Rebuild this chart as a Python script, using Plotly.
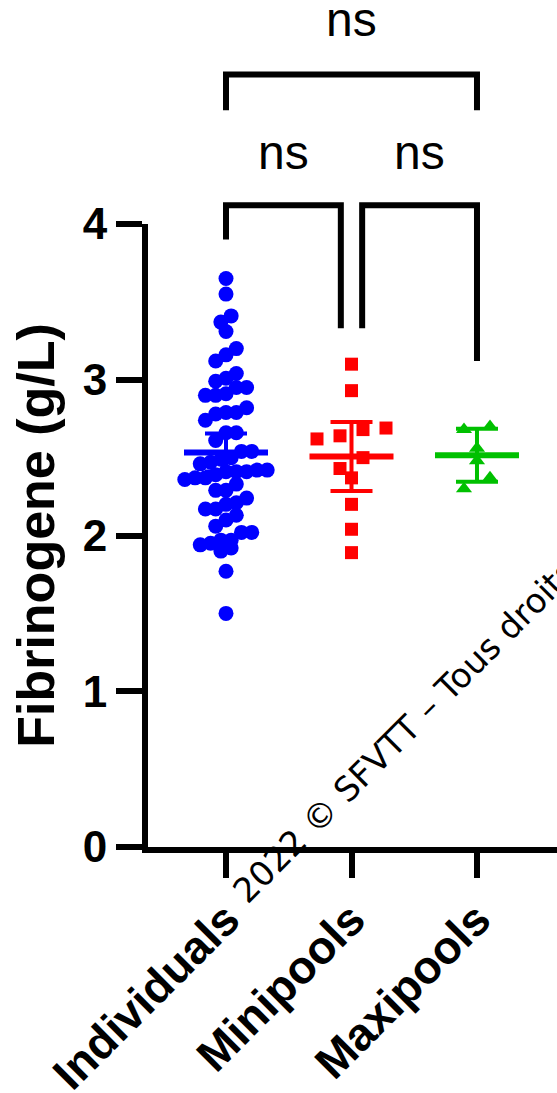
import math
import numpy as np
import plotly.graph_objects as go

# ---- data -----------------------------------------------------------------
groups = ["Individuals", "Minipools", "Maxipools"]

individuals = [
    3.65, 3.55, 3.41, 3.37, 3.31, 3.20, 3.16, 3.12, 3.04, 3.01, 2.99, 2.95,
    2.95, 2.91, 2.90, 2.90, 2.82, 2.78, 2.74, 2.79, 2.79, 2.66, 2.66, 2.61,
    2.54, 2.54, 2.47, 2.49, 2.50, 2.46, 2.41, 2.42, 2.39, 2.41, 2.41, 2.42,
    2.37, 2.36, 2.37, 2.29, 2.29, 2.33, 2.24, 2.20, 2.21, 2.17, 2.17, 2.13,
    2.10, 2.06, 2.02, 2.02, 1.95, 1.97, 1.97, 1.92, 1.94, 1.90, 1.77, 1.50,
]
minipools = [3.10, 2.93, 2.64, 2.68, 2.69, 2.62, 2.50, 2.43, 2.37, 2.20, 2.04, 1.89]
maxipools = [2.68, 2.70, 2.56, 2.48, 2.37, 2.30]

y_ticks = [0, 1, 2, 3, 4]
y_title = "Fibrinogene (g/L)"
comparison_labels = ["ns", "ns", "ns"]
watermark = "2022 © SFVTT – Tous droits réservés"

# ---- styling ----------------------------------------------------------------
W, H = 557, 1093
M = dict(l=148, r=0, t=224, b=246)
X_RANGE = [-0.6215, 2.6375]
Y_RANGE = [0, 4]
FONT = "Liberation Sans, Arial, sans-serif"

colors = ["#0000FF", "#FF0000", "#00C000"]
symbols = ["circle", "square", "triangle-up"]
marker_sizes = [15, 13, 14]
row_px = [14, 13, 11.5]      # vertical band that forms one swarm row
step_px = [10.3, 23, 26]     # horizontal spacing inside a row

px_x = (W - M["l"] - M["r"]) / (X_RANGE[1] - X_RANGE[0])
px_y = (H - M["t"] - M["b"]) / (Y_RANGE[1] - Y_RANGE[0])


def swarm_offsets(values, row_h, step):
    """Column-scatter layout: bin points into rows and spread each row."""
    v = np.asarray(values, dtype=float)
    order = np.argsort(-v, kind="stable")
    rows, cur = [], []
    for i in order:
        if cur and (v[cur[0]] - v[i]) * px_y > row_h:
            rows.append(cur)
            cur = []
        cur.append(i)
    if cur:
        rows.append(cur)
    off = np.zeros(len(v))
    for row in rows:
        row = sorted(row, key=lambda k: v[k])
        n = len(row)
        for j, k in enumerate(row):
            off[k] = (j - (n - 1) / 2) * step / px_x
    return off


def t_crit(df, q=0.975):
    logc = math.lgamma((df + 1) / 2) - math.lgamma(df / 2) - 0.5 * math.log(df * math.pi)

    def cdf(t):
        xs = np.linspace(0.0, t, 4001)
        pdf = np.exp(logc - (df + 1) / 2 * np.log1p(xs ** 2 / df))
        return 0.5 + np.trapezoid(pdf, xs)

    lo, hi = 0.0, 40.0
    for _ in range(70):
        mid = (lo + hi) / 2
        if cdf(mid) < q:
            lo = mid
        else:
            hi = mid
    return (lo + hi) / 2


fig = go.Figure()
series = [individuals, minipools, maxipools]
mean_half = 42 / px_x

for i, vals in enumerate(series):
    vals = np.asarray(vals, dtype=float)
    xs = i + swarm_offsets(vals, row_px[i], step_px[i])
    fig.add_trace(go.Scatter(
        x=xs, y=vals, mode="markers", hoverinfo="y",
        marker=dict(symbol=symbols[i], size=marker_sizes[i], color=colors[i],
                    line=dict(width=0)),
    ))
    n = len(vals)
    mean = vals.mean()
    ci = t_crit(n - 1) * vals.std(ddof=1) / math.sqrt(n)
    fig.add_trace(go.Scatter(
        x=[i], y=[mean], mode="markers", hoverinfo="skip",
        marker=dict(size=1, color=colors[i], opacity=0),
        error_y=dict(type="data", array=[ci], visible=True, color=colors[i],
                     thickness=4, width=21),
    ))
    fig.add_trace(go.Scatter(
        x=[i - mean_half, i + mean_half], y=[mean, mean], mode="lines",
        hoverinfo="skip", line=dict(color=colors[i], width=6),
    ))

# ---- significance brackets (paper y: fraction of the 0-4 axis) --------------
def py(v):
    return v / (Y_RANGE[1] - Y_RANGE[0])

brackets = [
    # x_left, x_right, bar level, left leg end, right leg end, label level
    (0.0, 2.0, 4.96, 4.73, 4.73, 5.31),
    (0.0, 0.915, 4.12, 3.90, 3.33, 4.46),
    (1.085, 2.0, 4.12, 3.33, 3.12, 4.46),
]
for (x0, x1, bar, l0, l1, ty), lab in zip(brackets, comparison_labels):
    fig.add_shape(
        type="path", xref="x", yref="paper",
        path=f"M {x0},{py(l0)} L {x0},{py(bar)} L {x1},{py(bar)} L {x1},{py(l1)}",
        line=dict(color="black", width=6),
    )
    fig.add_annotation(
        x=(x0 + x1) / 2, y=py(ty), xref="x", yref="paper", text=lab,
        showarrow=False, xanchor="center", yanchor="middle",
        font=dict(family=FONT, size=48, color="black"),
    )

fig.add_annotation(
    x=0.762, y=0.274, xref="paper", yref="paper", text=watermark,
    showarrow=False, textangle=-45, xanchor="center", yanchor="middle",
    font=dict(family="DejaVu Sans", size=34, color="black"),
)

fig.update_layout(
    width=W, height=H, margin=M, showlegend=False,
    paper_bgcolor="white", plot_bgcolor="white",
    xaxis=dict(
        range=X_RANGE, tickmode="array", tickvals=list(range(len(groups))),
        ticktext=groups, tickangle=-45, ticks="outside", ticklen=25,
        tickwidth=6, tickcolor="black", showline=True, linewidth=6,
        linecolor="black", showgrid=False, zeroline=False, automargin=False,
        ticklabelstandoff=-4,
        tickfont=dict(family=FONT, size=46, color="black", weight="bold"),
    ),
    yaxis=dict(
        range=Y_RANGE, tickmode="array", tickvals=y_ticks, ticks="outside",
        ticklen=26, tickwidth=6, tickcolor="black", showline=True,
        linewidth=6, linecolor="black", showgrid=False, zeroline=False,
        ticklabelstandoff=0, automargin=False,
        tickfont=dict(family=FONT, size=44, color="black", weight="bold"),
        title=dict(text=y_title, standoff=14,
                   font=dict(family=FONT, size=52, color="black", weight="bold")),
    ),
)

fig.write_html("out.html")
